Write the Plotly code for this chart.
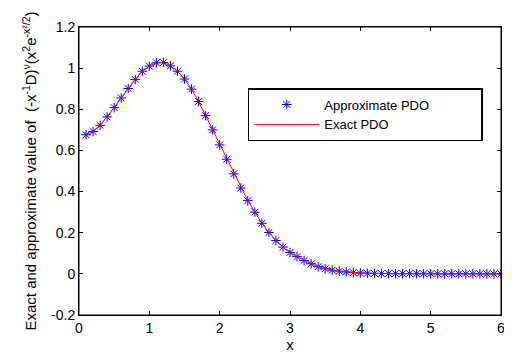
import plotly.graph_objects as go

x_vals = [round(0.1 * k, 1) for k in range(1, 61)]
y_approx = [0.676, 0.692, 0.722, 0.763, 0.808, 0.855, 0.901, 0.945, 0.985, 1.010,
            1.026, 1.027, 1.011, 0.985, 0.947, 0.898, 0.838, 0.769, 0.700, 0.627,
            0.557, 0.486, 0.417, 0.356, 0.300, 0.246, 0.201, 0.162, 0.130, 0.104,
            0.084, 0.065, 0.049, 0.035, 0.025, 0.018, 0.013, 0.009, 0.006, 0.004,
            0.003, 0.002, 0.0015, 0.001, 0.001, 0.001, 0.0008, 0.0006, 0.0005, 0.0004,
            0.0003, 0.0002, 0.0002, 0.0001, 0.0001, 0.0001, 0.0, 0.0, 0.0, 0.0]
y_exact = list(y_approx)

x_ticks = [0, 1, 2, 3, 4, 5, 6]
x_ticklabels = ["0", "1", "2", "3", "4", "5", "6"]
y_ticks = [-0.2, 0, 0.2, 0.4, 0.6, 0.8, 1.0, 1.2]
y_ticklabels = ["-0.2", "0", "0.2", "0.4", "0.6", "0.8", "1", "1.2"]

FONT = "Liberation Sans, Arial, sans-serif"
pad = "\u00a0" * 13

fig = go.Figure()
fig.add_trace(go.Scatter(
    x=x_vals, y=y_approx, mode="markers", name="Approximate PDO" + pad,
    marker=dict(symbol="asterisk-open", size=8, color="blue",
                line=dict(color="blue", width=1)),
    hoverinfo="skip",
))
fig.add_trace(go.Scatter(
    x=x_vals, y=y_exact, mode="lines", name="Exact PDO",
    line=dict(color="red", width=1),
    hoverinfo="skip",
))

axis_common = dict(
    showline=True, linecolor="black", linewidth=1, mirror="allticks",
    ticks="inside", ticklen=4, tickcolor="black", showgrid=False, zeroline=False,
    tickfont=dict(family=FONT, size=14, color="black"), automargin=False,
)

# page body has an 8px margin, so the figure is sized to fit the 512x359 window
fig.update_layout(
    width=504, height=351,
    margin=dict(l=71, r=11, t=19, b=44),
    paper_bgcolor="white", plot_bgcolor="white",
    font=dict(family=FONT, size=14, color="black"),
    hovermode=False,
    xaxis=dict(range=[0, 6], tickvals=x_ticks, ticktext=x_ticklabels,
               title=dict(text="x", font=dict(family=FONT, size=15), standoff=2),
               **axis_common),
    yaxis=dict(range=[-0.2, 1.2], tickvals=y_ticks, ticktext=y_ticklabels,
               title=dict(text="Exact and approximate value of  (-x<sup>-1</sup>D)<sup>ν</sup>(x<sup>2</sup>e<sup>-x²/2</sup>)",
                          font=dict(family=FONT, size=15), standoff=10),
               **axis_common),
    legend=dict(x=0.40, y=0.788, xanchor="left", yanchor="top",
                bgcolor="white", bordercolor="black", borderwidth=1.5,
                font=dict(family=FONT, size=13), itemwidth=65,
                tracegroupgap=0),
    showlegend=True,
    shapes=[dict(type="rect", xref="paper", yref="paper", x0=0, y0=0, x1=1, y1=1,
                 line=dict(color="black", width=1), layer="above")],
)

fig.write_html("out.html", post_script="document.body.style.overflow='hidden';")
